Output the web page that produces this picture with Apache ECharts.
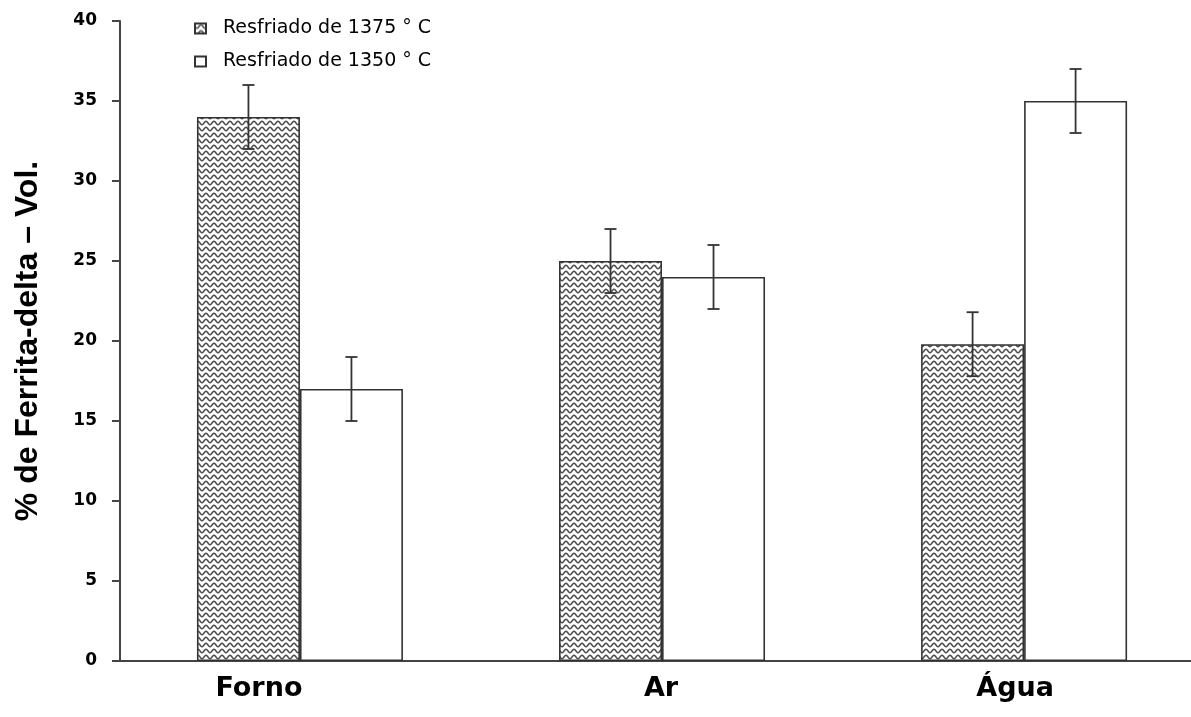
<!DOCTYPE html>
<html>
<head>
<meta charset="utf-8">
<script src="https://cdn.jsdelivr.net/npm/echarts@6/dist/echarts.min.js"></script>
<style>
  html, body { margin: 0; padding: 0; background: #fff; }
  #chart { width: 1191px; height: 717px; }
</style>
</head>
<body>
<div id="chart"></div>
<script>
// Cooling route and delta-ferrite volume fraction
const categories = ['Forno', 'Ar', 'Água'];
const seriesNames = ['Resfriado de 1375 ° C', 'Resfriado de 1350 ° C'];
const ferrita1375 = [34, 25, 19.8];
const ferrita1350 = [17, 24, 35];
const erro1375 = [2, 2, 2];
const erro1350 = [2, 2, 2];
const yTicks = { min: 0, max: 40, interval: 5 };

// Category positions on a numeric x scale (groups one unit apart)
const catPos = categories.map((c, i) => i);
const xRange = { min: -0.497, max: 2.461 };

// Wavy hatch fill for the 1375 °C bars
function wavePattern() {
  const c = document.createElement('canvas');
  c.width = 16; c.height = 12;
  const g = c.getContext('2d');
  g.fillStyle = '#ffffff';
  g.fillRect(0, 0, c.width, c.height);
  g.strokeStyle = '#4d4d4d';
  g.lineWidth = 1.5;
  for (let r = 0; r < 2; r++) {
    const y0 = 3 + r * 6;
    g.beginPath();
    for (let x = -1; x <= 17; x += 0.5) {
      const y = y0 + 1.7 * Math.sin(2 * Math.PI * x / 8);
      if (x === -1) g.moveTo(x, y); else g.lineTo(x, y);
    }
    g.stroke();
  }
  return c;
}

const BAR_W = 103;
const LINE = '#333333';

function errorSeries(values, errors, offset) {
  return {
    type: 'custom',
    silent: true,
    z: 10,
    encode: { x: 0, y: [1, 2] },
    data: values.map((v, i) => [catPos[i], v - errors[i], v + errors[i]]),
    renderItem: function (params, api) {
      const xv = api.value(0);
      const lo = api.coord([xv, api.value(1)]);
      const hi = api.coord([xv, api.value(2)]);
      const x = lo[0] + offset;
      const cap = 6;
      const style = { stroke: LINE, lineWidth: 1.8 };
      return {
        type: 'group',
        children: [
          { type: 'line', shape: { x1: x, y1: lo[1], x2: x, y2: hi[1] }, style },
          { type: 'line', shape: { x1: x - cap, y1: hi[1], x2: x + cap, y2: hi[1] }, style },
          { type: 'line', shape: { x1: x - cap, y1: lo[1], x2: x + cap, y2: lo[1] }, style }
        ]
      };
    }
  };
}

const labelShift = { 'Forno': 82, 'Ar': 2, 'Água': 18 };
const xLabelFont = { fontFamily: 'DejaVu Sans', fontWeight: 'bold', fontSize: 27, color: '#000' };

const chart = echarts.init(document.getElementById('chart'), null, { renderer: 'canvas' });
chart.setOption({
  animation: false,
  backgroundColor: '#ffffff',
  grid: { left: 120, right: 0, top: 21, bottom: 56, containLabel: false },
  legend: {
    data: seriesNames,
    orient: 'vertical',
    left: 189,
    top: 14,
    itemWidth: 11,
    itemHeight: 10,
    itemGap: 14,
    icon: 'rect',
    textStyle: {
      fontFamily: 'DejaVu Sans',
      fontSize: 19,
      color: '#000',
      padding: [0, 0, 0, 12]
    }
  },
  xAxis: {
    type: 'value',
    min: xRange.min,
    max: xRange.max,
    axisLine: { onZero: false, lineStyle: { color: '#444', width: 2 } },
    axisTick: { show: false },
    axisLabel: {
      margin: 14,
      customValues: catPos,
      showMinLabel: true,
      showMaxLabel: true,
      formatter: function (v) {
        const i = Math.round(v);
        return '{t' + i + '|' + categories[i] + '}';
      },
      rich: {
        t0: Object.assign({ padding: [0, labelShift['Forno'], 0, 0] }, xLabelFont),
        t1: Object.assign({ padding: [0, labelShift['Ar'], 0, 0] }, xLabelFont),
        t2: Object.assign({ padding: [0, labelShift['Água'], 0, 0] }, xLabelFont)
      }
    },
    splitLine: { show: false }
  },
  yAxis: {
    type: 'value',
    min: yTicks.min,
    max: yTicks.max,
    interval: yTicks.interval,
    name: '% de Ferrita-delta – Vol.',
    nameLocation: 'middle',
    nameRotate: 90,
    nameGap: 76,
    nameTextStyle: {
      fontFamily: 'Liberation Sans',
      fontWeight: 'bold',
      fontSize: 32,
      color: '#000'
    },
    axisLine: { show: true, onZero: false, lineStyle: { color: '#444', width: 2 } },
    axisTick: { show: true, length: 8, lineStyle: { color: '#444', width: 2 } },
    axisLabel: {
      margin: 23,
      fontFamily: 'DejaVu Sans',
      fontWeight: 'bold',
      fontSize: 17,
      color: '#000'
    },
    splitLine: { show: false }
  },
  series: [
    {
      name: seriesNames[0],
      type: 'bar',
      data: ferrita1375.map((v, i) => [catPos[i], v]),
      barWidth: BAR_W,
      barGap: '0%',
      itemStyle: {
        color: { image: wavePattern(), repeat: 'repeat' },
        borderColor: LINE,
        borderWidth: 1.6
      }
    },
    {
      name: seriesNames[1],
      type: 'bar',
      data: ferrita1350.map((v, i) => [catPos[i], v]),
      barWidth: BAR_W,
      barGap: '0%',
      itemStyle: {
        color: '#ffffff',
        borderColor: LINE,
        borderWidth: 1.6
      }
    },
    errorSeries(ferrita1375, erro1375, -BAR_W / 2),
    errorSeries(ferrita1350, erro1350, BAR_W / 2)
  ]
});
</script>
</body>
</html>
